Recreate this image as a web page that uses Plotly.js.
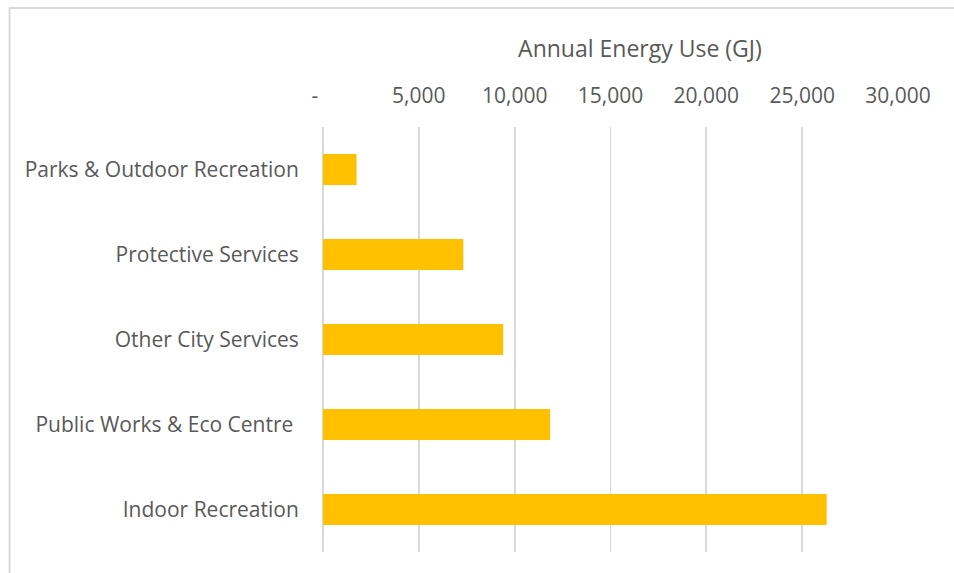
<!DOCTYPE html>
<html>
<head>
<meta charset="utf-8">
<script src="https://cdn.plot.ly/plotly-3.0.1.min.js"></script>
<style>
html, body { margin: 0; padding: 0; background: #ffffff; }
#chart { width: 954px; height: 573px; }
</style>
</head>
<body>
<div id="chart"></div>
<script>
const categories = [
  "Parks & Outdoor Recreation",
  "Protective Services",
  "Other City Services",
  "Public Works & Eco Centre\u00a0",
  "Indoor Recreation"
];
const energyGJ = [1750, 7320, 9400, 11850, 26280];
const tickValues = [0, 5000, 10000, 15000, 20000, 25000, 30000];
const tickLabels = ["-\u00a0\u00a0\u00a0", "5,000", "10,000", "15,000", "20,000", "25,000", "30,000"];
const axisTitle = "Annual Energy Use (GJ)";

const textColor = "#595959";
const gridColor = "#d9d9d9";
const fontFamily = "Open Sans, Liberation Sans, sans-serif";

const W = 954, H = 573;
const L = 322.5, R = 55.5, T = 127, B = 21;
const pw = W - L - R, ph = H - T - B;

const data = [{
  type: "bar",
  orientation: "h",
  x: energyGJ,
  y: categories,
  marker: { color: "#FFC000" },
  hoverinfo: "x+y"
}];

const layout = {
  width: W,
  height: H,
  margin: { l: L, r: R, t: T, b: B, pad: 0 },
  paper_bgcolor: "#ffffff",
  plot_bgcolor: "#ffffff",
  bargap: 0.635,
  showlegend: false,
  font: { family: fontFamily, color: textColor, size: 21 },
  title: {
    text: axisTitle,
    x: (640 - L) / pw,
    xref: "paper",
    xanchor: "center",
    y: 1 - 49 / H,
    yref: "container",
    yanchor: "middle",
    font: { family: fontFamily, color: textColor, size: 23 }
  },
  xaxis: {
    side: "top",
    range: [0, 30000],
    tickvals: tickValues,
    ticktext: tickLabels,
    showgrid: true,
    gridcolor: gridColor,
    gridwidth: 1.7,
    zeroline: true,
    zerolinecolor: gridColor,
    zerolinewidth: 1.7,
    showline: false,
    ticks: "outside",
    ticklen: 15,
    tickcolor: "rgba(0,0,0,0)",
    tickfont: { family: fontFamily, color: textColor, size: 21 },
    fixedrange: true
  },
  yaxis: {
    categoryorder: "array",
    categoryarray: categories,
    autorange: "reversed",
    showgrid: false,
    zeroline: false,
    showline: false,
    ticks: "outside",
    ticklen: 19,
    tickcolor: "rgba(0,0,0,0)",
    tickfont: { family: fontFamily, color: textColor, size: 21 },
    fixedrange: true
  },
  shapes: [{
    type: "path",
    xref: "paper",
    yref: "paper",
    path: "M " + ((8.5 - L) / pw) + "," + (-(H + 10 - T - ph) / ph) +
          " L " + ((8.5 - L) / pw) + "," + (1 + (T - 8) / ph) +
          " L " + ((W + 10 - L) / pw) + "," + (1 + (T - 8) / ph),
    line: { color: gridColor, width: 2 }
  }]
};

Plotly.newPlot("chart", data, layout, { displayModeBar: false, staticPlot: true });
</script>
</body>
</html>
